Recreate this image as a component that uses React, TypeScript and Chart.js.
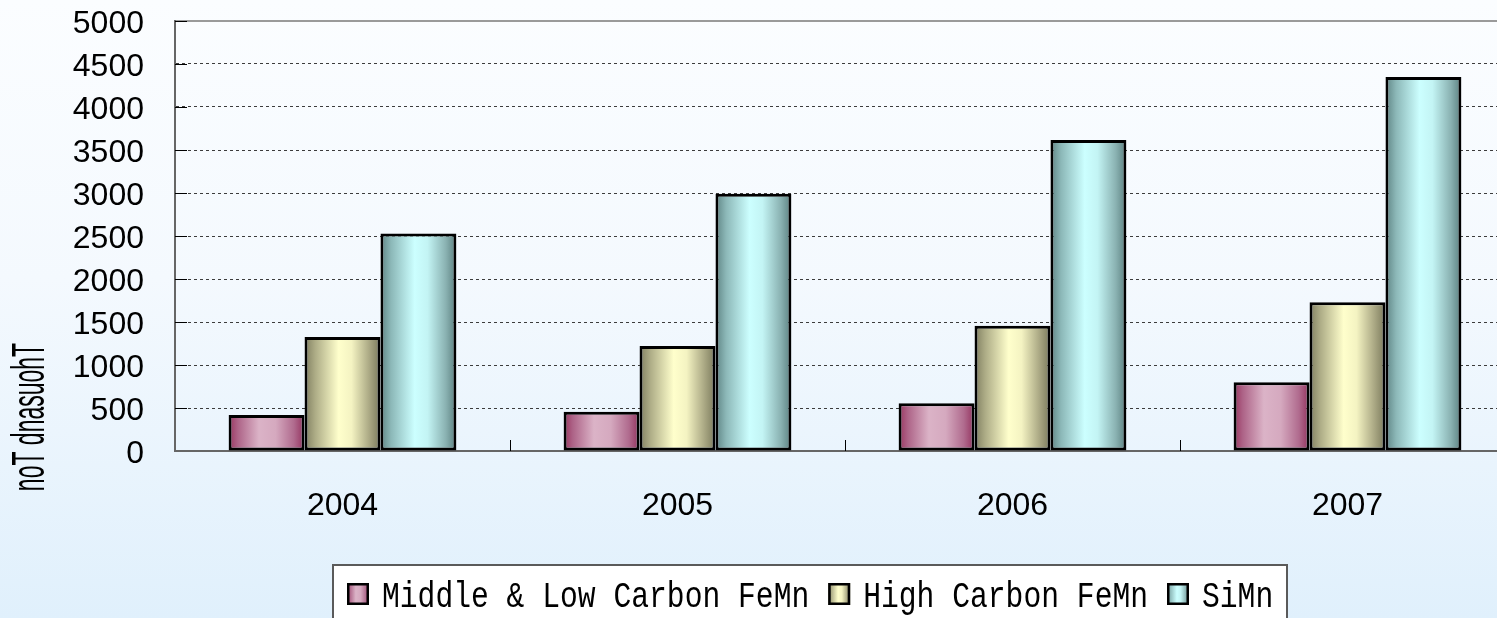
import React, { useEffect, useRef } from 'react';
import { Chart, registerables } from 'chart.js';

Chart.register(...registerables);

const categories = ['2004', '2005', '2006', '2007'];
const seriesNames = ['Middle & Low Carbon FeMn', 'High Carbon FeMn', 'SiMn'];
const midLowCarbonFeMn = [420, 455, 555, 800];
const highCarbonFeMn = [1325, 1220, 1455, 1730];
const siMn = [2530, 2990, 3615, 4350];
const yTicks = [0, 500, 1000, 1500, 2000, 2500, 3000, 3500, 4000, 4500, 5000];
const yAxisTitle = 'Thousand Ton';

const seriesValues = [midLowCarbonFeMn, highCarbonFeMn, siMn];
const seriesFallback = ['#d9acc2', '#f6f5c3', '#c2f3f3'];
const seriesStops: [number, string][][] = [
  [[0, '#98345f'], [0.12, '#ad6387'], [0.4, '#dbb3c7'], [0.62, '#d5a9bf'], [0.86, '#b06b8e'], [1, '#93315e']],
  [[0, '#7f7e60'], [0.14, '#adac86'], [0.45, '#ffffcc'], [0.62, '#f4f3c2'], [0.86, '#a8a682'], [1, '#7a795b']],
  [[0, '#5e8484'], [0.14, '#8cb8b8'], [0.45, '#ccffff'], [0.62, '#c3f4f4'], [0.86, '#8ab2b2'], [1, '#5a7f7f']],
];

const CAT_PCT = 0.68;
const FONT = '"Liberation Sans", Arial, sans-serif';

function makeGradient(ctx: CanvasRenderingContext2D, left: number, width: number, si: number) {
  const g = ctx.createLinearGradient(left, 0, left + width, 0);
  seriesStops[si].forEach(([o, c]) => g.addColorStop(o, c));
  return g;
}

const decorPlugin = {
  id: 'decor',
  afterDraw(chart: any) {
    const { ctx, chartArea, scales } = chart;
    const y = scales.y;
    const x = scales.x;
    ctx.save();
    ctx.strokeStyle = '#000';
    ctx.lineWidth = 1;
    y.ticks.forEach((t: any) => {
      if (t.value === 0) return;
      const py = Math.round(y.getPixelForValue(t.value)) + 0.5;
      ctx.beginPath();
      ctx.moveTo(chartArea.left, py);
      ctx.lineTo(chartArea.left + 12, py);
      ctx.stroke();
    });
    const cat = x.width / categories.length;
    for (let i = 1; i < categories.length; i++) {
      const px = Math.round(x.left + i * cat) + 0.5;
      ctx.beginPath();
      ctx.moveTo(px, chartArea.bottom);
      ctx.lineTo(px, chartArea.bottom - 11);
      ctx.stroke();
    }
    ctx.restore();

    // y axis title: glyphs rotated, stacked top to bottom
    ctx.save();
    ctx.font = '46px ' + FONT;
    ctx.fillStyle = '#000';
    ctx.textAlign = 'left';
    ctx.textBaseline = 'middle';
    const s = 0.5;
    const chars = yAxisTitle.split('');
    const widths = chars.map((ch) => ctx.measureText(ch).width * s);
    const total = widths.reduce((a, b) => a + b, 0);
    let yy = 417 - total / 2;
    chars.forEach((ch, i) => {
      ctx.save();
      ctx.translate(31, yy + widths[i]);
      ctx.rotate(-Math.PI / 2);
      ctx.scale(s, 1);
      ctx.fillText(ch, 0, 0);
      ctx.restore();
      yy += widths[i];
    });
    ctx.restore();

    // legend
    ctx.save();
    ctx.fillStyle = '#ffffff';
    ctx.fillRect(333, 565, 954, 70);
    ctx.strokeStyle = '#5a5a5a';
    ctx.lineWidth = 2;
    ctx.strokeRect(333, 565, 954, 70);
    const pitch = 17.8;
    const fontSize = 36;
    const sx = pitch / (fontSize * 0.6);
    let lx = 347;
    seriesNames.forEach((name, si) => {
      ctx.fillStyle = makeGradient(ctx, lx, 22, si);
      ctx.fillRect(lx, 583, 22, 22);
      ctx.strokeStyle = '#000';
      ctx.lineWidth = 2.5;
      ctx.strokeRect(lx + 1.25, 584.25, 19.5, 19.5);
      const tx = lx + 35;
      ctx.save();
      ctx.translate(tx, 607);
      ctx.scale(sx, 1);
      ctx.font = fontSize + 'px "Liberation Mono", "DejaVu Sans Mono", monospace';
      ctx.fillStyle = '#000';
      ctx.textAlign = 'left';
      ctx.textBaseline = 'alphabetic';
      ctx.fillText(name, 0, 0);
      ctx.restore();
      lx = tx + name.length * pitch + 19;
    });
    ctx.restore();
  },
};

export default function App() {
  const ref = useRef<HTMLCanvasElement | null>(null);

  useEffect(() => {
    const canvas = ref.current;
    if (!canvas) return;
    const chart = new Chart(canvas, {
      type: 'bar',
      data: {
        labels: categories,
        datasets: seriesNames.map((name, si) => ({
          label: name,
          data: seriesValues[si],
          borderColor: '#000',
          borderWidth: 3,
          borderSkipped: false,
          categoryPercentage: CAT_PCT,
          barPercentage: 1,
          backgroundColor: (c: any) => {
            const ch = c.chart;
            const xs = ch.scales && ch.scales.x;
            if (!ch.chartArea || !xs || c.type !== 'data') return seriesFallback[si];
            const cat = xs.width / categories.length;
            const group = cat * CAT_PCT;
            const bw = group / seriesNames.length;
            const left = xs.getPixelForValue(c.dataIndex) - group / 2 + c.datasetIndex * bw;
            return makeGradient(ch.ctx, left, bw, si);
          },
        })),
      },
      options: {
        responsive: false,
        animation: false,
        devicePixelRatio: 1,
        layout: { padding: { top: 21, right: 15, bottom: 0, left: 0 } },
        plugins: {
          legend: { display: false },
          tooltip: { enabled: false },
        },
        scales: {
          x: {
            offset: true,
            grid: { display: false, drawTicks: false },
            border: { display: true, color: '#666666', width: 2 },
            ticks: {
              padding: 36,
              color: '#000',
              font: { family: FONT, size: 32 },
            },
            afterFit: (s: any) => {
              s.height = 618 - 451;
              s.paddingLeft = 0;
              s.paddingRight = 0;
            },
          },
          y: {
            min: 0,
            max: 5000,
            afterBuildTicks: (s: any) => {
              s.ticks = yTicks.map((v) => ({ value: v }));
            },
            ticks: {
              autoSkip: false,
              padding: 31,
              labelOffset: 3,
              color: '#000',
              font: { family: FONT, size: 32 },
              callback: (v: any) => String(v),
            },
            grid: {
              drawTicks: false,
              color: (c: any) =>
                c.tick && c.tick.value === 5000 ? '#9a9a9a' : c.tick && c.tick.value === 0 ? 'rgba(0,0,0,0)' : '#3c3c3c',
              lineWidth: (c: any) => (c.tick && c.tick.value === 5000 ? 2 : 1),
            },
            border: {
              display: true,
              color: '#666666',
              width: 2,
              dash: (c: any) => (c.tick && c.tick.value === 5000 ? [] : [3, 3]),
            },
            afterFit: (s: any) => {
              s.width = 175;
              s.paddingTop = 0;
              s.paddingBottom = 0;
            },
          },
        },
      },
      plugins: [decorPlugin],
    });
    return () => chart.destroy();
  }, []);

  return (
    <div
      style={{
        position: 'fixed',
        left: 0,
        top: 0,
        width: 1497,
        height: 618,
        overflow: 'hidden',
        background: 'linear-gradient(to bottom, #fbfdff 0%, #f4f9fe 45%, #e0f0fc 100%)',
      }}
    >
      <canvas ref={ref} width={1530} height={618} style={{ display: 'block' }} />
    </div>
  );
}
